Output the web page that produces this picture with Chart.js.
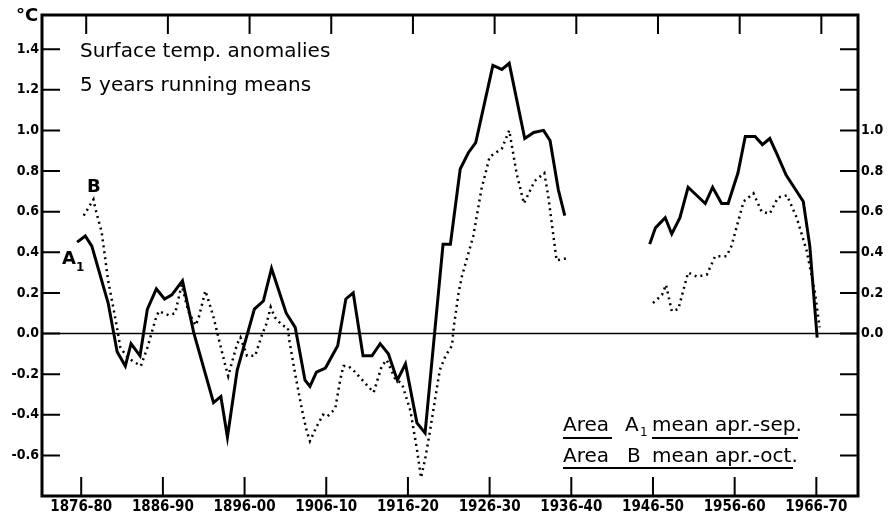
<!DOCTYPE html>
<html>
<head>
<meta charset="utf-8">
<script src="https://cdn.jsdelivr.net/npm/chart.js@4.4.1/dist/chart.umd.min.js"></script>
<style>
body{margin:0;background:#fff;}
#wrap{width:888px;height:527px;position:relative;}
</style>
</head>
<body>
<div id="wrap"><canvas id="myChart"></canvas></div>
<script>
// Variables global
var years_A1 = [1877.5,1878.5,1879.3,1881.3,1882.4,1883.4,1884.1,1885.2,1886.1,1887.2,1888.2,1889.1,1890.4,1891.8,
	1894.2,1895.1,1895.9,1897.1,1899.2,1900.3,1901.3,1903.1,1904.2,1905.4,1906.0,1906.8,1907.9,1909.4,1910.4,1911.3,
	1912.5,1913.6,1914.6,1915.6,1916.7,1917.7,1919.1,1920.1,1922.3,1923.2,1924.4,1925.4,1926.3,1928.4,1929.5,1930.4,
	1932.3,1933.4,1934.6,1935.4,1936.4,1937.2,
	1947.6,1948.3,1949.5,1950.3,1951.3,1952.3,1954.4,1955.3,1956.4,1957.2,1958.4,1959.3,1960.5,1961.4,1962.3,1963.1,
	1964.3,1966.4,1967.2,1968.1];
var temp_A1 = [0.45,0.48,0.43,0.15,-0.09,-0.16,-0.05,-0.11,0.12,0.22,0.17,0.19,0.26,0.00,
	-0.34,-0.31,-0.51,-0.18,0.12,0.16,0.32,0.10,0.03,-0.23,-0.26,-0.19,-0.17,-0.06,0.17,0.20,
	-0.11,-0.11,-0.05,-0.10,-0.23,-0.15,-0.44,-0.49,0.44,0.44,0.81,0.89,0.94,1.32,1.30,1.33,
	0.96,0.99,1.00,0.95,0.71,0.58,
	0.44,0.52,0.57,0.49,0.57,0.72,0.64,0.72,0.64,0.64,0.79,0.97,0.97,0.93,0.96,0.89,
	0.78,0.65,0.43,-0.02];

var years_B = [1878.3,1879.5,1879.7,1880.5,1881.3,1882.2,1882.8,1883.7,1885.3,1886.1,1887.1,1887.5,1888.7,1889.5,
	1890.3,1891.1,1892.0,1892.4,1893.2,1893.6,1894.2,1894.8,1895.6,1896.0,1896.4,1897.1,1897.5,1898.3,1899.3,1900.1,
	1900.7,1901.2,1901.7,1902.6,1903.3,1903.5,1904.2,1905.0,1905.6,1906.0,1906.8,1907.6,1908.1,1909.1,1909.7,1910.1,
	1910.7,1911.3,1913.8,1914.8,1915.4,1916.4,1917.3,1918.3,1919.1,1919.6,1920.1,1920.7,1921.3,1921.9,1922.6,1923.4,
	1923.6,1924.2,1924.6,1926.0,1927.0,1928.0,1929.5,1930.4,1931.3,1932.2,1933.5,1934.7,1935.2,1936.2,1937.4,
	1948.0,1949.1,1949.6,1950.3,1951.1,1951.9,1952.3,1953.4,1954.6,1955.6,1957.0,1957.6,1959.1,1960.3,1961.3,1962.3,
	1963.3,1964.4,1965.6,1966.8,1967.8,1968.4];
var temp_B = [0.58,0.66,0.62,0.50,0.26,0.07,-0.07,-0.12,-0.16,-0.07,0.07,0.11,0.09,0.10,
	0.24,0.11,0.04,0.08,0.21,0.16,0.08,-0.02,-0.15,-0.21,-0.15,-0.05,-0.02,-0.11,-0.11,-0.01,
	0.05,0.13,0.08,0.04,0.03,-0.04,-0.20,-0.37,-0.48,-0.53,-0.46,-0.40,-0.41,-0.37,-0.23,-0.16,
	-0.16,-0.18,-0.29,-0.16,-0.13,-0.22,-0.25,-0.38,-0.57,-0.71,-0.62,-0.48,-0.33,-0.18,-0.11,-0.06,
	0.03,0.20,0.28,0.48,0.71,0.87,0.91,1.00,0.79,0.64,0.75,0.79,0.67,0.36,0.37,
	0.15,0.19,0.24,0.11,0.12,0.24,0.30,0.28,0.29,0.38,0.38,0.43,0.65,0.69,0.60,0.59,
	0.67,0.68,0.57,0.41,0.21,0.03];

var x_ticks = [1878,1888,1898,1908,1918,1928,1938,1948,1958,1968];
var x_labels = ['1876-80','1886-90','1896-00','1906-10','1916-20','1926-30','1936-40','1946-50','1956-60','1966-70'];
var y_ticks = [-0.6,-0.4,-0.2,0.0,0.2,0.4,0.6,0.8,1.0,1.2,1.4];
var y2_labels = [0.0,0.2,0.4,0.6,0.8,1.0];

var x_min = 1873.2;
var x_max = 1973.1;
var y_min = -0.80;
var y_max = 1.568;

var tickFont = '"DejaVu Sans Condensed", "DejaVu Sans", sans-serif';

// points with a null where the record is broken (1938-1946)
function makePoints(xs, ys){
	var pts = [];
	for(let i=0;i<xs.length;i++){
		if(i>0 && xs[i]-xs[i-1]>5){
			pts.push({x:(xs[i]+xs[i-1])/2, y:null});
		}
		pts.push({x:xs[i], y:ys[i]});
	}
	return pts;
}

function setTicks(list){
	return function(scale){
		scale.ticks = list.map(v => ({value:v}));
	};
}

const frame = {
	id: 'frame',
	beforeDatasetsDraw(chart){
		const c = chart.ctx;
		const a = chart.chartArea;
		const y0 = chart.scales.y.getPixelForValue(0);
		c.save();
		c.strokeStyle = '#000';
		c.lineWidth = 1.5;
		c.beginPath();
		c.moveTo(a.left, y0);
		c.lineTo(a.right, y0);
		c.stroke();
		c.restore();
	},
	afterDraw(chart){
		const c = chart.ctx;
		const a = chart.chartArea;
		const sx = chart.scales.x;
		const sy = chart.scales.y;
		c.save();
		c.strokeStyle = '#000';
		c.fillStyle = '#000';
		c.lineWidth = 3;
		c.strokeRect(a.left, a.top, a.right-a.left, a.bottom-a.top);
		c.lineWidth = 2;
		c.beginPath();
		for(let v of x_ticks){
			const px = sx.getPixelForValue(v);
			c.moveTo(px, a.bottom); c.lineTo(px, a.bottom-19);
			c.moveTo(px+5, a.top); c.lineTo(px+5, a.top+19);
		}
		for(let v of y_ticks){
			const py = sy.getPixelForValue(v);
			c.moveTo(a.left, py); c.lineTo(a.left+18, py);
			c.moveTo(a.right, py); c.lineTo(a.right-18, py);
		}
		c.stroke();

		c.font = '20px "DejaVu Sans"';
		c.fillText('Surface temp. anomalies', 80, 57);
		c.fillText('5 years running means', 80, 91);

		c.font = 'bold 18px "DejaVu Sans"';
		c.fillText('\u00b0C', 16, 21);
		c.font = 'bold 18px "DejaVu Sans"';
		c.fillText('B', 87, 192);
		c.fillText('A', 62, 264);
		c.font = 'bold 12px "DejaVu Sans"';
		c.fillText('1', 76, 271);

		// legend
		c.font = '20px "DejaVu Sans"';
		c.fillText('Area', 563, 431);
		c.fillText('A', 625, 431);
		c.fillText('mean apr.-sep.', 652, 431);
		c.fillText('Area', 563, 462);
		c.fillText('B', 627, 462);
		c.fillText('mean apr.-oct.', 652, 462);
		c.font = '12px "DejaVu Sans"';
		c.fillText('1', 640, 436);
		c.lineWidth = 2;
		c.beginPath();
		c.moveTo(563, 438); c.lineTo(612, 438);
		c.moveTo(652, 438); c.lineTo(798, 438);
		c.moveTo(563, 468); c.lineTo(793, 468);
		c.stroke();
		c.restore();
	}
};

const ctx = document.getElementById('myChart');
var chart1 = new Chart(ctx, {
	type: 'line',
	data: {
		datasets: [{
			label: 'Area A1 mean apr.-sep.',
			data: makePoints(years_A1, temp_A1),
			borderColor: '#000',
			borderWidth: 3,
			pointRadius: 0,
			tension: 0,
			spanGaps: false
		},{
			label: 'Area B mean apr.-oct.',
			data: makePoints(years_B, temp_B),
			borderColor: '#000',
			borderWidth: 2.5,
			borderDash: [2,4],
			pointRadius: 0,
			tension: 0,
			spanGaps: false
		}]
	},
	options: {
		responsive: true,
		maintainAspectRatio: false,
		animation: false,
		layout: { padding: { top: 15, left: 0, right: 0, bottom: 0 } },
		plugins: { legend: { display: false }, tooltip: { enabled: false } },
		scales: {
			x: {
				type: 'linear',
				min: x_min,
				max: x_max,
				afterBuildTicks: setTicks(x_ticks),
				afterFit: function(scale){ scale.height = 31; },
				grid: { display: false, drawTicks: false },
				border: { display: false },
				ticks: {
					autoSkip: false,
					maxRotation: 0,
					padding: 2,
					color: '#000',
					font: { family: tickFont, size: 15, weight: 'bold' },
					callback: function(v){ return x_labels[x_ticks.indexOf(v)]; }
				}
			},
			y: {
				position: 'left',
				min: y_min,
				max: y_max,
				afterBuildTicks: setTicks(y_ticks),
				afterFit: function(scale){ scale.width = 42; },
				grid: { display: false, drawTicks: false },
				border: { display: false },
				ticks: {
					padding: 3,
					color: '#000',
					font: { family: tickFont, size: 14, weight: 'bold' },
					callback: function(v){ return v.toFixed(1); }
				}
			},
			y2: {
				position: 'right',
				min: y_min,
				max: y_max,
				afterBuildTicks: setTicks(y_ticks),
				afterFit: function(scale){ scale.width = 30; },
				grid: { display: false, drawTicks: false },
				border: { display: false },
				ticks: {
					padding: 3,
					color: '#000',
					font: { family: tickFont, size: 14, weight: 'bold' },
					callback: function(v){
						for(let l of y2_labels){ if(Math.abs(l-v)<0.001) return v.toFixed(1); }
						return '';
					}
				}
			}
		}
	},
	plugins: [frame]
});
</script>
</body>
</html>
